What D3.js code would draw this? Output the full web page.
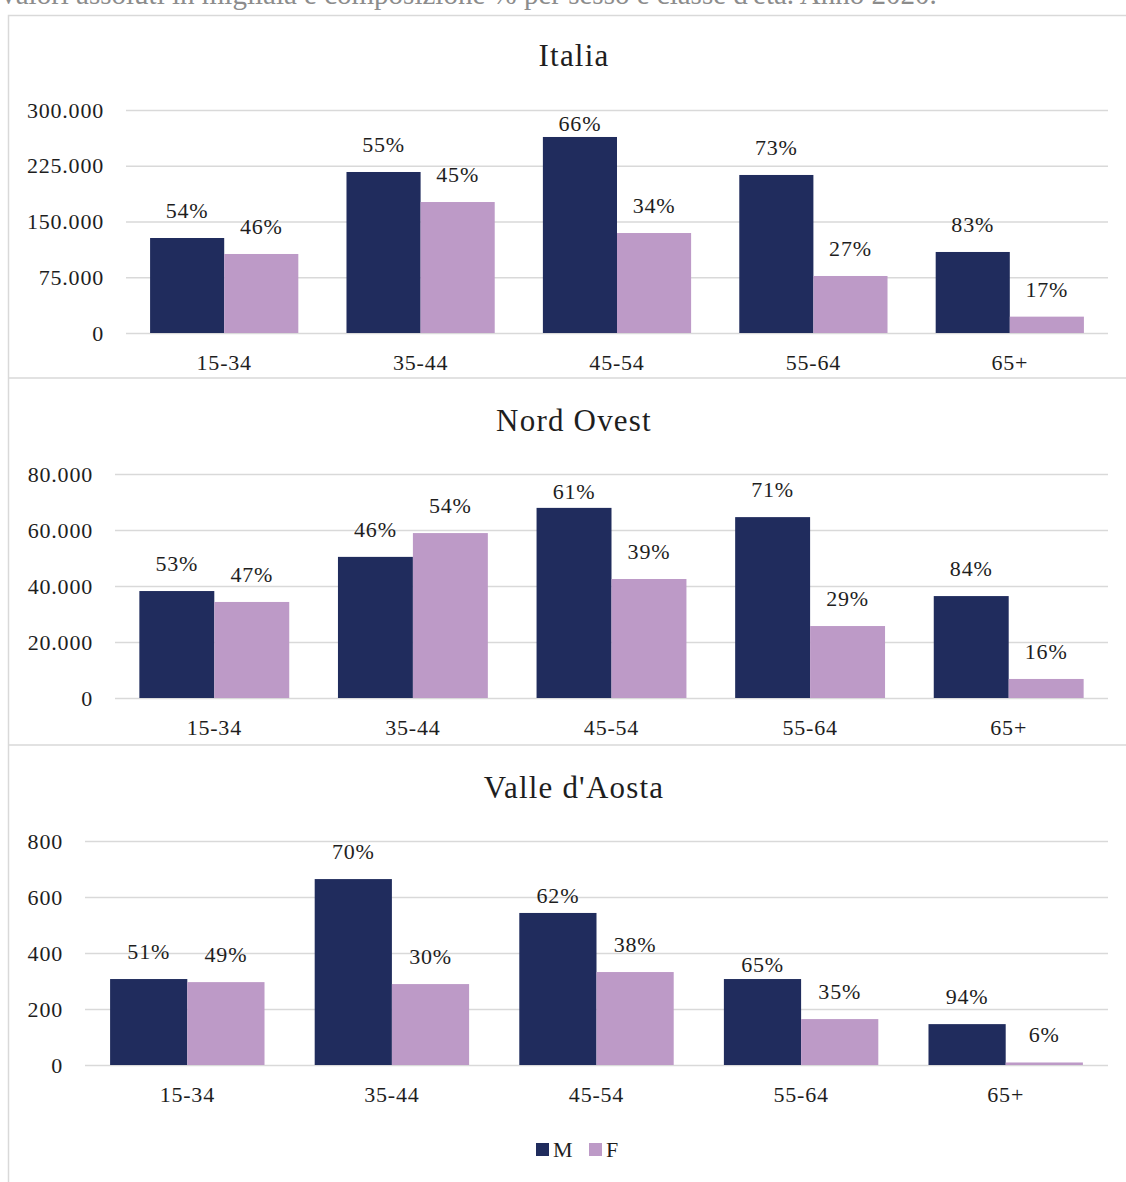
<!DOCTYPE html>
<html>
<head>
<meta charset="utf-8">
<script src="https://cdn.jsdelivr.net/npm/d3@7"></script>
<style>
  body { margin: 0; background: #fff; }
  text { font-family: "Liberation Serif", "DejaVu Serif", serif; fill: #1e1e1e; }
</style>
</head>
<body>
<script>
// categories and series
var categories = ["15-34", "35-44", "45-54", "55-64", "65+"];
var regions = ["Italia", "Nord Ovest", "Valle d'Aosta"];
var sexes = ["M", "F"];

var italiaM = [127800, 216600, 263700, 212600, 109000];
var italiaF = [106300, 176200, 134500, 76700, 22000];
var italiaPctM = ["54%", "55%", "66%", "73%", "83%"];
var italiaPctF = ["46%", "45%", "34%", "27%", "17%"];
var italiaTicks = [0, 75000, 150000, 225000, 300000];

var nordOvestM = [38200, 50400, 67900, 64600, 36400];
var nordOvestF = [34300, 58900, 42500, 25700, 6800];
var nordOvestPctM = ["53%", "46%", "61%", "71%", "84%"];
var nordOvestPctF = ["47%", "54%", "39%", "29%", "16%"];
var nordOvestTicks = [0, 20000, 40000, 60000, 80000];

var valleM = [307, 664, 543, 307, 146];
var valleF = [296, 289, 332, 164, 9];
var vallePctM = ["51%", "70%", "62%", "65%", "94%"];
var vallePctF = ["49%", "30%", "38%", "35%", "6%"];
var valleTicks = [0, 200, 400, 600, 800];

var subtitle = "Valori assoluti in migliaia e composizione % per sesso e classe d'età. Anno 2020.";

var colors = {M: "#202c5d", F: "#bd9ac7"};
var W = 1126, H = 1182;

// Italian number format (dot as thousands separator)
var itFormat = d3.formatLocale({decimal: ",", thousands: ".", grouping: [3], currency: ["€", ""]}).format(",d");

var svg = d3.select("body").append("svg")
    .attr("width", W)
    .attr("height", H);

// subtitle, cut off at the top as in the source picture
svg.append("text")
    .attr("x", -2)
    .attr("y", 4)
    .style("font-size", "29px")
    .style("fill", "#8c8c8c")
    .text(subtitle);

// outer frame
svg.append("rect")
    .attr("x", 8.5).attr("y", 15.5)
    .attr("width", W + 20).attr("height", H)
    .attr("fill", "none")
    .attr("stroke", "#d9d9d9")
    .attr("stroke-width", 1.5);

// panel layout (nudge = extra downward shift of some data labels, like excel does)
var panels = [
  {name: regions[0], m: italiaM, f: italiaF, pm: italiaPctM, pf: italiaPctF, ticks: italiaTicks,
   left: 126, top: 110, bottom: 333, titleY: 55, sepY: 378, nudge: {"45-54M": 14}},
  {name: regions[1], m: nordOvestM, f: nordOvestF, pm: nordOvestPctM, pf: nordOvestPctF, ticks: nordOvestTicks,
   left: 115, top: 474, bottom: 698, titleY: 420, sepY: 745, nudge: {"45-54M": 11}},
  {name: regions[2], m: valleM, f: valleF, pm: vallePctM, pf: vallePctF, ticks: valleTicks,
   left: 85, top: 841, bottom: 1065, titleY: 787, sepY: null, nudge: {"45-54M": 10, "55-64M": 13}}
];
var right = 1108;
var gap = 0.65; // excel gap width

panels.forEach(function(p) {
  var g = svg.append("g");

  if (p.sepY) {
    g.append("line")
      .attr("x1", 8).attr("x2", W)
      .attr("y1", p.sepY).attr("y2", p.sepY)
      .attr("stroke", "#d9d9d9")
      .attr("stroke-width", 1.5);
  }

  g.append("text")
    .attr("x", 574)
    .attr("y", p.titleY)
    .attr("dy", "0.35em")
    .attr("text-anchor", "middle")
    .style("font-size", "31px")
    .style("letter-spacing", "1.2px")
    .text(p.name);

  var pad = gap / (2 + gap);
  var x0 = d3.scaleBand()
      .domain(categories)
      .range([p.left, right])
      .paddingInner(pad)
      .paddingOuter(pad / 2);
  var x1 = d3.scaleBand()
      .domain(sexes)
      .range([0, x0.bandwidth()]);
  var y = d3.scaleLinear()
      .domain([0, d3.max(p.ticks)])
      .range([p.bottom, p.top]);

  // gridlines + y labels
  var yAxis = g.append("g")
      .attr("transform", "translate(" + p.left + ",0)")
      .call(d3.axisLeft(y).tickValues(p.ticks).tickFormat(itFormat)
        .tickSize(-(right - p.left)).tickPadding(22));
  yAxis.select(".domain").remove();
  yAxis.attr("font-family", null).attr("font-size", null);
  yAxis.selectAll("line").attr("stroke", "#d9d9d9").attr("stroke-width", 1.6);
  yAxis.selectAll("text")
      .style("font-size", "22px")
      .style("letter-spacing", "0.8px")
      .attr("fill", "#1e1e1e");

  // category labels
  var xAxis = g.append("g")
      .attr("transform", "translate(0," + p.bottom + ")")
      .call(d3.axisBottom(x0).tickSize(0).tickPadding(21));
  xAxis.select(".domain").remove();
  xAxis.attr("font-family", null).attr("font-size", null);
  xAxis.selectAll("text")
      .style("font-size", "22px")
      .style("letter-spacing", "0.8px")
      .attr("fill", "#1e1e1e");

  var rows = categories.map(function(c, i) {
    return {cat: c, vals: [
      {cat: c, sex: "M", v: p.m[i], label: p.pm[i]},
      {cat: c, sex: "F", v: p.f[i], label: p.pf[i]}
    ]};
  });

  var grp = g.selectAll(".grp")
      .data(rows)
      .enter().append("g")
      .attr("class", "grp")
      .attr("transform", function(d) { return "translate(" + x0(d.cat) + ",0)"; });

  grp.selectAll("rect")
      .data(function(d) { return d.vals; })
      .enter().append("rect")
      .attr("x", function(d) { return x1(d.sex); })
      .attr("y", function(d) { return y(d.v); })
      .attr("width", x1.bandwidth())
      .attr("height", function(d) { return y(0) - y(d.v); })
      .attr("fill", function(d) { return colors[d.sex]; });

  grp.selectAll(".lbl")
      .data(function(d) { return d.vals; })
      .enter().append("text")
      .attr("class", "lbl")
      .attr("x", function(d) { return x1(d.sex) + x1.bandwidth() / 2; })
      .attr("y", function(d) { return y(d.v) - 20 + (p.nudge[d.cat + d.sex] || 0); })
      .attr("text-anchor", "middle")
      .style("font-size", "22px")
      .style("letter-spacing", "0.8px")
      .text(function(d) { return d.label; });
});

// legend
var legend = svg.append("g").attr("transform", "translate(536,1143)");
var item = legend.selectAll("g")
    .data(sexes)
    .enter().append("g")
    .attr("transform", function(d, i) { return "translate(" + (i * 53) + ",0)"; });
item.append("rect")
    .attr("width", 13).attr("height", 13)
    .attr("fill", function(d) { return colors[d]; });
item.append("text")
    .attr("x", 17)
    .attr("y", 14)
    .style("font-size", "22px")
    .text(function(d) { return d; });
</script>
</body>
</html>
